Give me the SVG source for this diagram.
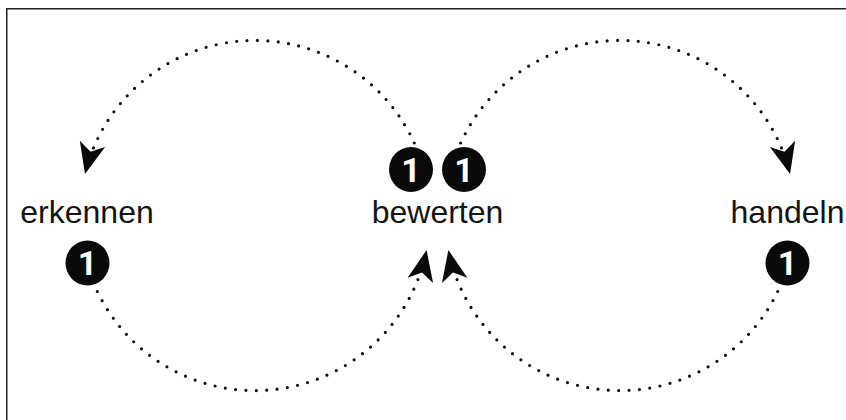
<svg xmlns="http://www.w3.org/2000/svg" width="846" height="420" viewBox="0 0 846 420">
  <style>
    .label { font-family: "Liberation Sans", sans-serif; font-size: 32px; fill: #141414; text-anchor: middle; }
    .badge ellipse { fill: #0a0a0a; }
    .badge text { font-family: Roboto, "Liberation Sans", sans-serif; font-weight: 700; font-size: 34px; fill: #ffffff; text-anchor: middle; }
    .flow { fill: none; stroke: #111; stroke-width: 3.2; stroke-linecap: round; stroke-dasharray: 0 10.4; marker-end: url(#dart); }
  </style>
  <defs>
    <marker id="dart" viewBox="-33 -16 36 32" refX="0" refY="0" markerWidth="36" markerHeight="32" markerUnits="userSpaceOnUse" orient="auto">
      <path d="M1,0 L-30,-13 L-22,0 L-30,13 Z" fill="#0a0a0a"/>
    </marker>
  </defs>

  <rect width="846" height="420" fill="#ffffff"/>
  <!-- frame: top and left edges -->
  <path d="M6.75,420 V8.75 H846" fill="none" stroke="#222" stroke-width="1.5"/>

  <g id="connectors">
    <!-- bewerten -> erkennen (upper left loop) -->
    <path class="flow" d="M414.3,143 A175,175 0 0 0 85.2,173"/>
    <!-- erkennen -> bewerten (lower left loop) -->
    <path class="flow" d="M93.1,282 A175,175 0 0 0 426.4,251"/>
    <!-- bewerten -> handeln (upper right loop) -->
    <path class="flow" d="M460.7,143 A175,175 0 0 1 789.8,173"/>
    <!-- handeln -> bewerten (lower right loop) -->
    <path class="flow" d="M781.9,282 A175,175 0 0 1 448.6,251"/>
  </g>

  <g id="erkennen">
    <text class="label" x="87" y="223">erkennen</text>
    <g class="badge">
      <ellipse cx="87.5" cy="263" rx="22" ry="22.5"/>
      <text x="87.5" y="275">1</text>
    </g>
  </g>

  <g id="bewerten">
    <text class="label" x="437.5" y="223">bewerten</text>
    <g class="badge">
      <ellipse cx="411" cy="169.5" rx="22" ry="22.5"/>
      <text x="411" y="181.5">1</text>
    </g>
    <g class="badge">
      <ellipse cx="464" cy="169.5" rx="22" ry="22.5"/>
      <text x="464" y="181.5">1</text>
    </g>
  </g>

  <g id="handeln">
    <text class="label" x="787.5" y="223">handeln</text>
    <g class="badge">
      <ellipse cx="787.5" cy="263" rx="22" ry="22.5"/>
      <text x="787.5" y="275">1</text>
    </g>
  </g>
</svg>
